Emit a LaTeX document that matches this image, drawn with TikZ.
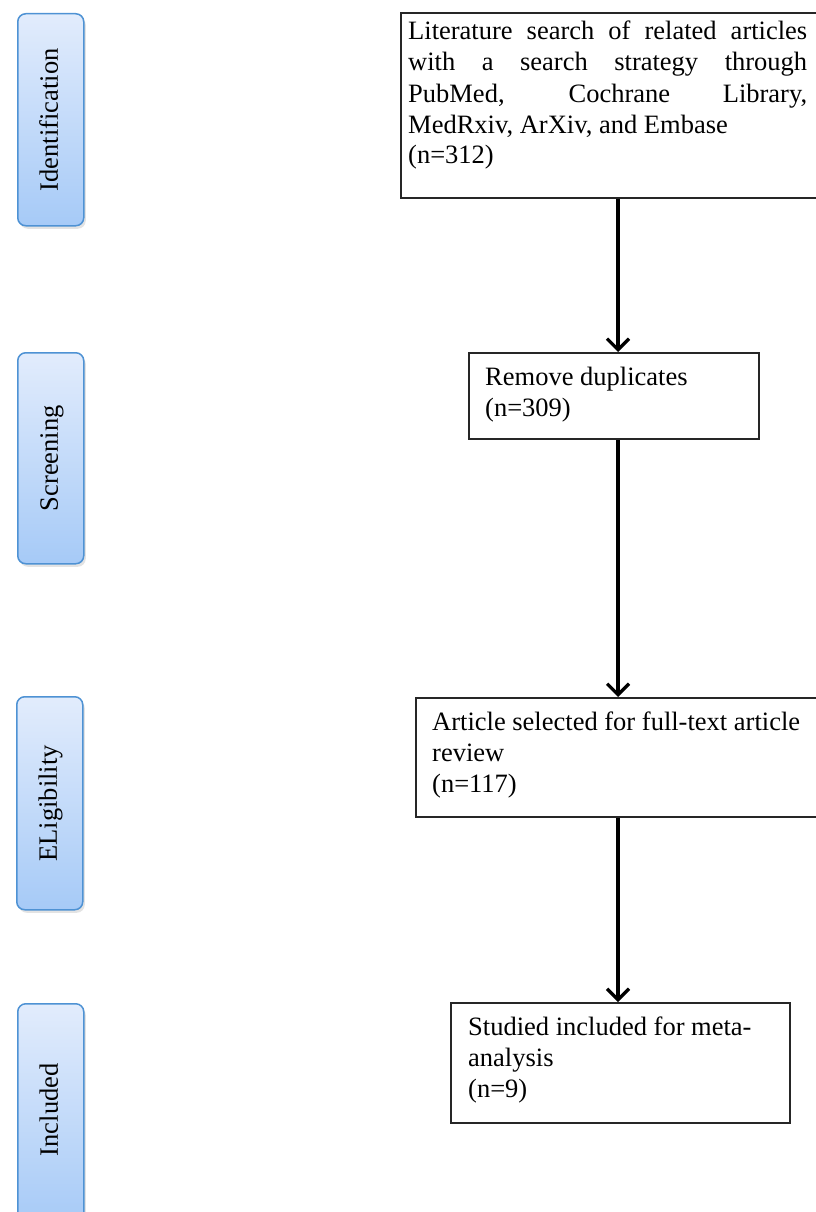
\documentclass[tikz,border=0pt]{standalone}
\usepackage{fontspec}
\setmainfont{Liberation Serif}
\usetikzlibrary{arrows.meta,shadows,calc}
\definecolor{sideTop}{HTML}{E2ECFC}
\definecolor{sideBot}{HTML}{A6CAF7}
\definecolor{sideLine}{HTML}{4E92D4}
\begin{document}
\begin{tikzpicture}[x=1pt,y=-1pt,
  frame/.style={draw=black!85, line width=1.8pt, anchor=north west, inner sep=0pt},
  txt/.style={inner sep=0pt, anchor=base west, align=left, font=\fontsize{26.5}{31}\selectfont},
  flow/.style={line width=3.2pt, -{Straight Barb[length=11pt,width=22pt]}},
  side/.style={rounded corners=8pt, draw=sideLine, line width=1.5pt, top color=sideTop, bottom color=sideBot,
    minimum width=66pt, anchor=north west, inner sep=0pt,
    drop shadow={opacity=0.22, shadow xshift=2pt, shadow yshift=-3pt}},
  sidetxt/.style={rotate=90, anchor=base, inner sep=0pt, font=\fontsize{26.5}{30}\selectfont}
]
\useasboundingbox (0,0) rectangle (816,1212);
% side stage boxes
\node[side, minimum height=212pt] (s1) at (17,13) {};
\node[sidetxt] (s1t) at ($(s1.center)+(7,0)$) {Identification};
\node[side, minimum height=211pt] (s2) at (17,352) {};
\node[sidetxt] (s2t) at ($(s2.center)+(7,0)$) {Screening};
\node[side, minimum height=213pt] (s3) at (16,696) {};
\node[sidetxt] (s3t) at ($(s3.center)+(7,0)$) {ELigibility};
\node[side, minimum height=222pt] (s4) at (17,1003) {};
\node[sidetxt] (s4t) at ($(s4.center)+(7,-5)$) {Included};
% flow boxes (text nodes anchored at the baseline of their last line)
\node[frame, minimum width=430pt, minimum height=185pt] (b1) at (400,12) {};
\node[txt] (t1) at (408,164) {\makebox[399pt][s]{Literature search of related articles}\\
\makebox[399pt][s]{with a search strategy through}\\
\makebox[399pt][s]{PubMed, Cochrane Library,}\\
MedRxiv, ArXiv, and Embase\\
(n=312)};
\node[frame, minimum width=290pt, minimum height=86pt] (b2) at (468,352) {};
\node[txt] (t2) at (485,416) {Remove duplicates\\(n=309)};
\node[frame, minimum width=415pt, minimum height=119pt] (b3) at (415,697) {};
\node[txt] (t3) at (432,792) {Article selected for full-text article\\review\\(n=117)};
\node[frame, minimum width=339pt, minimum height=120pt] (b4) at (450,1002) {};
\node[txt] (t4) at (468,1097) {Studied included for meta-\\analysis\\(n=9)};
% connectors
\coordinate (ax) at (618,0);
\draw[flow] (b1.south -| ax) -- (b2.north -| ax);
\draw[flow] (b2.south -| ax) -- (b3.north -| ax);
\draw[flow] (b3.south -| ax) -- (b4.north -| ax);
\end{tikzpicture}
\end{document}
